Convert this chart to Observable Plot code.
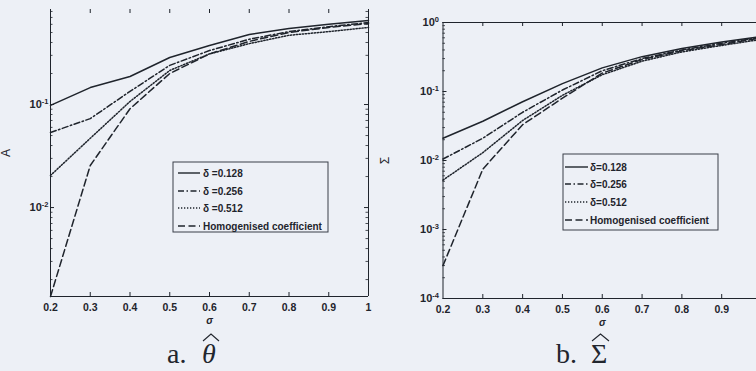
<!DOCTYPE html>
<html><head><meta charset="utf-8">
<script src="https://cdn.jsdelivr.net/npm/d3@7"></script>
<script src="https://cdn.jsdelivr.net/npm/@observablehq/plot@0.6"></script>
<style>
html,body{margin:0;padding:0;background:#edf0f6;overflow:hidden;width:756px;height:371px;}
#wrap{position:relative;width:756px;height:371px;overflow:hidden;}
.panel{position:absolute;top:0;}
.panel svg{max-width:none !important;}
.cap{position:absolute;font-family:"Liberation Serif","DejaVu Serif",serif;font-size:28px;line-height:28px;color:#22262e;white-space:nowrap;}
</style></head>
<body><div id="wrap">
<div id="pa" class="panel" style="left:0px;width:378px"></div>
<div id="pb" class="panel" style="left:378px;width:393px"></div>
</div>
<script>
// ---- data ----
const sigma = [0.2, 0.3, 0.4, 0.5, 0.6, 0.7, 0.8, 0.9, 1.0];
const xTicks = [0.2, 0.3, 0.4, 0.5, 0.6, 0.7, 0.8, 0.9, 1.0];
const xTickLabels = ["0.2", "0.3", "0.4", "0.5", "0.6", "0.7", "0.8", "0.9", "1"];

const legendA = ["δ =0.128", "δ =0.256", "δ =0.512", "Homogenised coefficient"];
const legendS = ["δ=0.128", "δ=0.256", "δ=0.512", "Homogenised coefficient"];

// panel a: A (theta hat)
const A_d128 = [0.098, 0.146, 0.187, 0.286, 0.374, 0.478, 0.547, 0.600, 0.654];
const A_d256 = [0.0535, 0.073, 0.134, 0.240, 0.334, 0.430, 0.510, 0.570, 0.625];
const A_d512 = [0.0205, 0.047, 0.107, 0.214, 0.310, 0.390, 0.470, 0.510, 0.560];
const A_hom  = [0.00137, 0.0256, 0.091, 0.200, 0.310, 0.410, 0.500, 0.560, 0.610];
const A_yDomain = [0.00137, 0.836];
const A_yTicks = [0.1, 0.01];
const A_yTickLabels = ["10^-1", "10^-2"];

// panel b: Sigma hat
const S_d128 = [0.021, 0.037, 0.071, 0.130, 0.220, 0.320, 0.420, 0.520, 0.630];
const S_d256 = [0.0105, 0.021, 0.050, 0.105, 0.200, 0.300, 0.400, 0.500, 0.610];
const S_d512 = [0.0052, 0.013, 0.038, 0.088, 0.175, 0.275, 0.375, 0.465, 0.570];
const S_hom  = [0.0003, 0.0075, 0.033, 0.080, 0.185, 0.290, 0.390, 0.480, 0.600];
const S_yDomain = [0.0001, 1];
const S_yTicks = [1, 0.1, 0.01, 0.001, 0.0001];
const S_yTickLabels = ["10^0", "10^-1", "10^-2", "10^-3", "10^-4"];

const captionA = ["a.", "θ"];
const captionS = ["b.", "Σ"];

// ---- styles ----
const INK = "#1f242c";
const dashes = [null, "6,2.5,1.5,2.5", "1.3,1.7", "7,3.5"];
const FONT = "'Liberation Sans', Arial, sans-serif";

function minorTicks(domain) {
  const out = [];
  for (let e = -6; e <= 1; e++) for (let m = 2; m <= 9; m++) {
    const v = m * Math.pow(10, e);
    if (v > domain[0] && v < domain[1]) out.push(v);
  }
  return out;
}

function makePanel(cfg) {
  const fw = cfg.width - cfg.marginLeft - cfg.marginRight;
  const fh = cfg.height - cfg.marginTop - cfg.marginBottom;
  const minors = minorTicks(cfg.yDomain);
  const lineMarks = cfg.series.map((vals, i) => Plot.line(
    vals.map((v, j) => ({x: sigma[j], y: v})),
    {x: "x", y: "y", stroke: INK, strokeWidth: 1.5, strokeDasharray: dashes[i] || undefined}
  ));
  const marks = [
    Plot.ruleX([0.2, 1], {stroke: INK, strokeWidth: 1}),
    Plot.ruleY([cfg.yDomain[0]], {stroke: INK, strokeWidth: 1}),
    cfg.topLine ? Plot.ruleY([cfg.yDomain[1]], {stroke: INK, strokeWidth: 1}) : null,
    Plot.ruleX(xTicks.slice(1, -1), {insetTop: fh - 4, stroke: INK}),
    Plot.ruleX(xTicks.slice(1, -1), {insetBottom: fh - 4, stroke: INK}),
    Plot.ruleY(cfg.yTicks, {insetRight: fw - 4, stroke: INK}),
    Plot.ruleY(cfg.yTicks, {insetLeft: fw - 4, stroke: INK}),
    Plot.ruleY(minors, {insetRight: fw - 2.5, stroke: INK, strokeWidth: 0.8}),
    Plot.ruleY(minors, {insetLeft: fw - 2.5, stroke: INK, strokeWidth: 0.8}),
    ...lineMarks,
    Plot.axisX(cfg.xLabelTicks, {tickSize: 0, tickPadding: 7, fontSize: 10.5, fontWeight: "bold", label: null,
      tickFormat: d => xTickLabels[xTicks.indexOf(d)], fill: INK}),
    Plot.axisY(cfg.yTicks, {tickSize: 0, tickPadding: cfg.yPad, fontSize: 11, fontWeight: "bold", label: null,
      tickFormat: d => cfg.yTickLabels[cfg.yTicks.indexOf(d)], fill: INK}),
    Plot.text(["σ"], {text: d => d, frameAnchor: "bottom", dy: 24, lineAnchor: "middle",
      fontStyle: "italic", fontWeight: "bold", fontSize: 10, fill: INK}),
    Plot.text([cfg.yLabel], {text: d => d, frameAnchor: "left", dx: cfg.yLabelDx, rotate: -90,
      textAnchor: "middle", lineAnchor: "middle", fontSize: 12, fill: INK})
  ].filter(Boolean);
  const svg = Plot.plot({
    width: cfg.width, height: cfg.height,
    marginLeft: cfg.marginLeft, marginRight: cfg.marginRight,
    marginTop: cfg.marginTop, marginBottom: cfg.marginBottom,
    style: {background: "transparent", fontFamily: FONT, color: INK, overflow: "visible", maxWidth: "none"},
    x: {domain: [0.2, 1], axis: null},
    y: {type: "log", domain: cfg.yDomain, axis: null},
    marks
  });
  svg.querySelectorAll('g[aria-label="y-axis tick label"] text').forEach(t => {
    const m = t.textContent.match(/^10\^(.+)$/);
    if (!m) return;
    t.textContent = "10";
    const ts = document.createElementNS("http://www.w3.org/2000/svg", "tspan");
    ts.setAttribute("dy", "-0.5em");
    ts.setAttribute("font-size", "7.5");
    ts.textContent = m[1];
    t.appendChild(ts);
  });
  document.querySelector(cfg.el).appendChild(svg);
}

makePanel({el: "#pa", series: [A_d128, A_d256, A_d512, A_hom], yDomain: A_yDomain,
  yTicks: A_yTicks, yTickLabels: A_yTickLabels, yLabel: "A", yLabelDx: -44, yPad: 2,
  xLabelTicks: xTicks,
  width: 378, height: 330, marginLeft: 50, marginRight: 10, marginTop: 9, marginBottom: 34, topLine: false});
// right panel: frame extends past the picture's right edge, so its "1" label is not shown (as in the reference)
makePanel({el: "#pb", series: [S_d128, S_d256, S_d512, S_hom], yDomain: S_yDomain,
  yTicks: S_yTicks, yTickLabels: S_yTickLabels, yLabel: "Σ", yLabelDx: -57.5, yPad: 4,
  xLabelTicks: xTicks.slice(0, -1),
  width: 393, height: 330, marginLeft: 64.5, marginRight: 10, marginTop: 22, marginBottom: 32, topLine: true});

// ---- legends ----
const NS = "http://www.w3.org/2000/svg";
function el(tag, attrs) { const e = document.createElementNS(NS, tag); for (const k in attrs) e.setAttribute(k, attrs[k]); return e; }
function makeLegend(labels, box, rows, sx1, sx2, tx) {
  const svg = el("svg", {width: box.w + 2, height: box.h + 2});
  svg.style.position = "absolute"; svg.style.left = (box.x - 1) + "px"; svg.style.top = (box.y - 1) + "px";
  svg.appendChild(el("rect", {x: 1, y: 1, width: box.w, height: box.h, fill: "#edf0f6", stroke: "#3a3f48", "stroke-width": 1}));
  labels.forEach((lab, i) => {
    const y = rows[i] + 1;
    const ln = el("line", {x1: sx1, x2: sx2, y1: y, y2: y, stroke: INK, "stroke-width": 1.4});
    if (dashes[i]) ln.setAttribute("stroke-dasharray", dashes[i]);
    svg.appendChild(ln);
    const t = el("text", {x: tx, y: y, "dominant-baseline": "central", "font-family": FONT,
      "font-size": 10, "font-weight": "bold", fill: INK});
    t.textContent = lab;
    svg.appendChild(t);
  });
  document.getElementById("wrap").appendChild(svg);
}
makeLegend(legendA, {x: 173, y: 162, w: 155, h: 70}, [11, 29, 46, 64], 6, 28, 31);
makeLegend(legendS, {x: 563, y: 154, w: 155, h: 76}, [13, 30, 48, 66], 3, 26, 28);

// ---- captions ----
function hat(w) {
  const s = el("svg", {width: w, height: 10});
  s.style.position = "absolute"; s.style.left = "0px"; s.style.top = "-7px";
  s.appendChild(el("path", {d: `M1,8 L${w / 2},1 L${w - 1},8`, fill: "none", stroke: "#22262e", "stroke-width": 1.1}));
  return s;
}
function caption(parts, xLabel, xSym, italic, hatW) {
  const a = document.createElement("div"); a.className = "cap";
  a.style.left = xLabel + "px"; a.style.top = "340px"; a.textContent = parts[0];
  const b = document.createElement("div"); b.className = "cap";
  b.style.left = xSym + "px"; b.style.top = "340px"; b.textContent = parts[1];
  if (italic) b.style.fontStyle = "italic";
  b.appendChild(hat(hatW));
  const w = document.getElementById("wrap"); w.appendChild(a); w.appendChild(b);
}
caption(captionA, 167, 202, true, 18);
caption(captionS, 556, 591, false, 19);
</script>
</body></html>
